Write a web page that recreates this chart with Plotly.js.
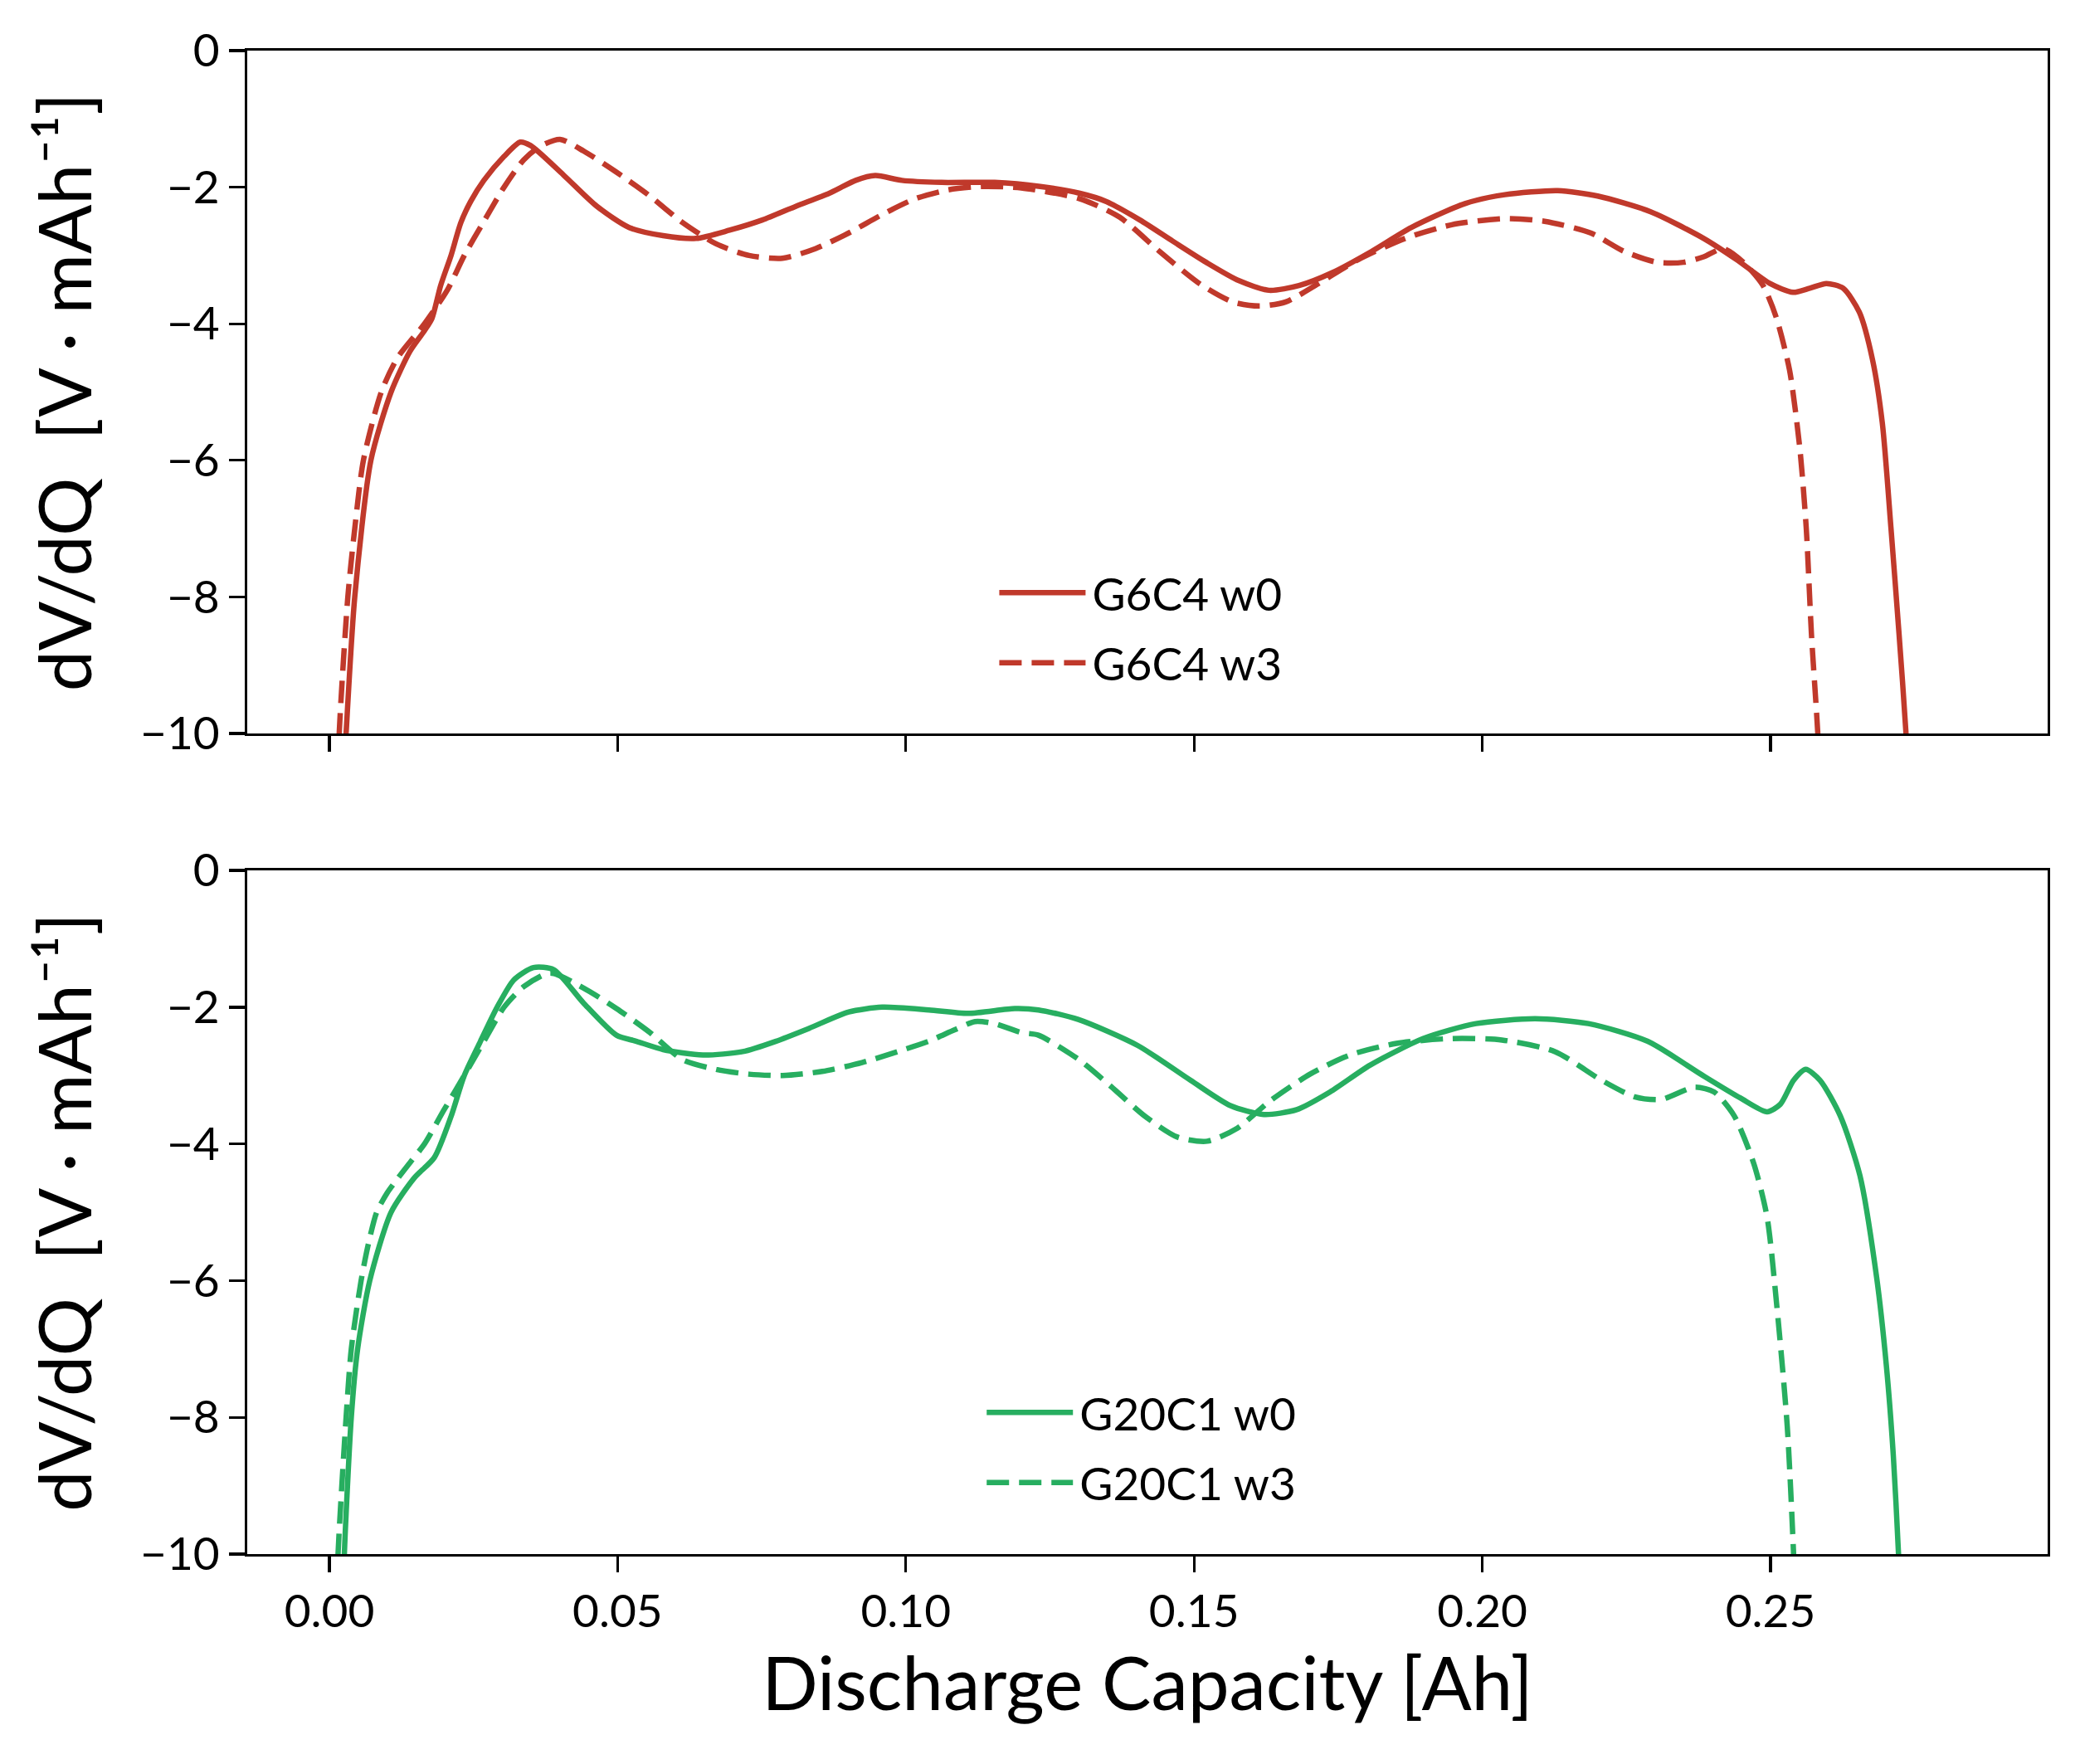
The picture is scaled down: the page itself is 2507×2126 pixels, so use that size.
<!DOCTYPE html>
<html>
<head>
<meta charset="utf-8">
<script src="https://cdn.plot.ly/plotly-3.0.1.min.js"></script>
<style>
html,body{margin:0;padding:0;background:#fff;}
#chart{width:2507px;height:2126px;}
</style>
</head>
<body>
<div id="chart"></div>
<script>
// ---- data ----
const seriesNames = ["G6C4 w0", "G6C4 w3", "G20C1 w0", "G20C1 w3"];
const xTicks = [0, 0.05, 0.10, 0.15, 0.20, 0.25];
const yTicks = [0, -2, -4, -6, -8, -10];

const g6c4_w0_x = [0.0026,0.0029,0.0044,0.0072,0.0107,0.0140,0.0165,0.0178,0.0193,0.0211,0.0228,0.0245,0.0268,0.0303,0.0331,0.0349,0.0406,0.0464,0.0520,0.0579,0.0636,0.0694,0.0751,0.0809,0.0867,0.0913,0.0947,0.0993,0.1062,0.1154,0.1233,0.1302,0.1348,0.1406,0.1463,0.1521,0.1578,0.1630,0.1682,0.1740,0.1808,0.1877,0.1970,0.2039,0.2131,0.2200,0.2292,0.2384,0.2441,0.2499,0.2539,0.2568,0.2597,0.2626,0.2654,0.2677,0.2694,0.2709,0.2723,0.2735,0.2737];
const g6c4_w0_y = [-10.5,-10,-8,-6,-5,-4.4,-4.1,-3.92,-3.44,-3.0,-2.52,-2.21,-1.90,-1.55,-1.34,-1.39,-1.82,-2.28,-2.59,-2.71,-2.75,-2.63,-2.48,-2.28,-2.09,-1.90,-1.83,-1.90,-1.93,-1.93,-1.99,-2.09,-2.21,-2.48,-2.79,-3.10,-3.37,-3.51,-3.44,-3.25,-2.94,-2.59,-2.24,-2.11,-2.05,-2.13,-2.36,-2.75,-3.06,-3.41,-3.54,-3.48,-3.41,-3.48,-3.83,-4.53,-5.46,-7.0,-8.55,-10,-10.5];

const g6c4_w3_x = [0.0016,0.0017,0.0032,0.0044,0.0059,0.0090,0.0118,0.0165,0.0205,0.0234,0.0268,0.0303,0.0337,0.0366,0.0400,0.0441,0.0498,0.0556,0.0613,0.0671,0.0728,0.0786,0.0843,0.0901,0.0959,0.1016,0.1073,0.1131,0.1200,0.1302,0.1371,0.1440,0.1509,0.1567,0.1613,0.1659,0.1716,0.1785,0.1866,0.1947,0.2039,0.2108,0.2188,0.2246,0.2303,0.2349,0.2384,0.2418,0.2453,0.2487,0.2510,0.2533,0.2551,0.2562,0.2571,0.2582,0.2584];
const g6c4_w3_y = [-10.5,-10,-8,-7,-6,-5,-4.5,-4,-3.5,-3,-2.5,-2,-1.6,-1.4,-1.3,-1.47,-1.78,-2.13,-2.52,-2.83,-3.0,-3.04,-2.90,-2.67,-2.40,-2.17,-2.04,-1.99,-2.01,-2.17,-2.44,-2.94,-3.41,-3.68,-3.74,-3.68,-3.41,-3.06,-2.75,-2.55,-2.46,-2.50,-2.67,-2.94,-3.10,-3.10,-3.02,-2.90,-3.10,-3.44,-3.91,-4.68,-5.84,-7.0,-8.55,-10,-10.5];

const g20c1_w0_x = [0.0025,0.0026,0.0038,0.0049,0.0070,0.0107,0.0147,0.0182,0.0211,0.0234,0.0262,0.0291,0.0320,0.0354,0.0389,0.0441,0.0498,0.0533,0.0579,0.0648,0.0717,0.0774,0.0832,0.0901,0.0959,0.1040,0.1108,0.1189,0.1230,0.1299,0.1402,0.1494,0.1563,0.1621,0.1678,0.1736,0.1805,0.1897,0.1989,0.2092,0.2184,0.2287,0.2379,0.2448,0.2494,0.2517,0.2540,0.2561,0.2586,0.2621,0.2655,0.2684,0.2701,0.2713,0.2722,0.2724];
const g20c1_w0_y = [-10.5,-10,-8,-7,-6,-5,-4.5,-4.2,-3.6,-3.0,-2.5,-2.0,-1.6,-1.42,-1.45,-1.94,-2.41,-2.50,-2.62,-2.70,-2.65,-2.50,-2.31,-2.07,-2.0,-2.04,-2.09,-2.02,-2.04,-2.18,-2.56,-3.07,-3.44,-3.57,-3.50,-3.24,-2.85,-2.46,-2.24,-2.17,-2.24,-2.50,-2.98,-3.33,-3.53,-3.42,-3.07,-2.91,-3.07,-3.59,-4.46,-5.95,-7.25,-8.56,-10,-10.5];

const g20c1_w3_x = [0.0014,0.0015,0.0029,0.0038,0.0055,0.0068,0.0082,0.0100,0.0119,0.0142,0.0165,0.0199,0.0234,0.0268,0.0303,0.0337,0.0383,0.0441,0.0498,0.0556,0.0613,0.0671,0.0728,0.0786,0.0855,0.0924,0.0993,0.1039,0.1085,0.1120,0.1154,0.1200,0.1230,0.1299,0.1356,0.1414,0.1471,0.1523,0.1575,0.1632,0.1701,0.1770,0.1851,0.1943,0.2034,0.2126,0.2207,0.2264,0.2310,0.2368,0.2402,0.2437,0.2471,0.2494,0.2511,0.2529,0.2540,0.2542];
const g20c1_w3_y = [-10.5,-10,-8,-7,-6,-5.45,-5,-4.72,-4.5,-4.25,-4,-3.5,-3,-2.5,-2,-1.7,-1.5,-1.72,-2.02,-2.37,-2.77,-2.91,-2.98,-3.0,-2.94,-2.81,-2.63,-2.50,-2.33,-2.21,-2.24,-2.37,-2.41,-2.76,-3.16,-3.59,-3.90,-3.96,-3.77,-3.37,-2.98,-2.70,-2.53,-2.46,-2.48,-2.65,-3.07,-3.31,-3.35,-3.17,-3.24,-3.59,-4.29,-5.07,-6.38,-8.13,-10,-10.5];

// ---- style ----
const RED = "#c0392b", GREEN = "#27ae60";
const FONT = "Lato, 'Noto Sans', 'DejaVu Sans', sans-serif";
const LW = 6.5, DASH = "27px,12px";

function tr(x, y, name, color, dash, xa, ya, leg, grp) {
  return {
    x: x, y: y, name: name, type: "scatter", mode: "lines",
    xaxis: xa, yaxis: ya, legend: leg, legendgroup: grp,
    line: {color: color, width: LW, dash: dash, shape: "spline", smoothing: 0.7},
    hoverinfo: "skip"
  };
}

const data = [
  tr(g6c4_w0_x, g6c4_w0_y, seriesNames[0], RED, "solid", "x", "y", "legend", "a"),
  tr(g6c4_w3_x, g6c4_w3_y, seriesNames[1], RED, DASH, "x", "y", "legend", "b"),
  tr(g20c1_w0_x, g20c1_w0_y, seriesNames[2], GREEN, "solid", "x2", "y2", "legend2", "c"),
  tr(g20c1_w3_x, g20c1_w3_y, seriesNames[3], GREEN, DASH, "x2", "y2", "legend2", "d")
];

const XR = [-0.01425, 0.29807];
const axisCommon = {
  showline: true, linecolor: "#000", linewidth: 3.3, mirror: true,
  ticks: "outside", ticklen: 19, tickwidth: 3.3, tickcolor: "#000",
  showgrid: false, zeroline: false,
  tickfont: {family: FONT, size: 55, color: "#000"}
};
const yTitle = {text: "dV/dQ\u00a0\u00a0[V\u00a0·\u00a0mAh\u207B\u00B9]", font: {family: FONT, size: 88, color: "#000"}, standoff: 30};

const legFont = {family: FONT, size: 55, color: "#000"};
const layout = {
  width: 2507, height: 2126,
  margin: {l: 298, r: 39, t: 61, b: 253, pad: 0},
  paper_bgcolor: "#fff", plot_bgcolor: "#fff",
  font: {family: FONT, color: "#000"},
  xaxis: Object.assign({}, axisCommon, {domain: [0, 1], anchor: "y", range: XR, tickvals: xTicks, showticklabels: false}),
  yaxis: Object.assign({}, axisCommon, {domain: [0.5458, 1], anchor: "x", range: [-10, 0], tickvals: yTicks, title: yTitle}),
  xaxis2: Object.assign({}, axisCommon, {domain: [0, 1], anchor: "y2", range: XR, tickvals: xTicks, tickformat: ".2f",
    title: {text: "Discharge Capacity [Ah]", font: {family: FONT, size: 89, color: "#000"}, standoff: 20}}),
  yaxis2: Object.assign({}, axisCommon, {domain: [0, 0.4547], anchor: "x2", range: [-10, 0], tickvals: yTicks, title: yTitle}),
  legend: {x: 0.4154, y: 0.6628, xanchor: "left", yanchor: "top", bgcolor: "rgba(0,0,0,0)", borderwidth: 0,
    font: legFont, itemwidth: 107, tracegroupgap: 10},
  legend2: {x: 0.4084, y: 0.1175, xanchor: "left", yanchor: "top", bgcolor: "rgba(0,0,0,0)", borderwidth: 0,
    font: legFont, itemwidth: 107, tracegroupgap: 10},
  showlegend: true
};

Plotly.newPlot("chart", data, layout, {staticPlot: true, displayModeBar: false}).then(function () {
  document.querySelectorAll(".legendlines path").forEach(function (p) {
    p.setAttribute("d", "M5,0h104");
  });
});
</script>
</body>
</html>
